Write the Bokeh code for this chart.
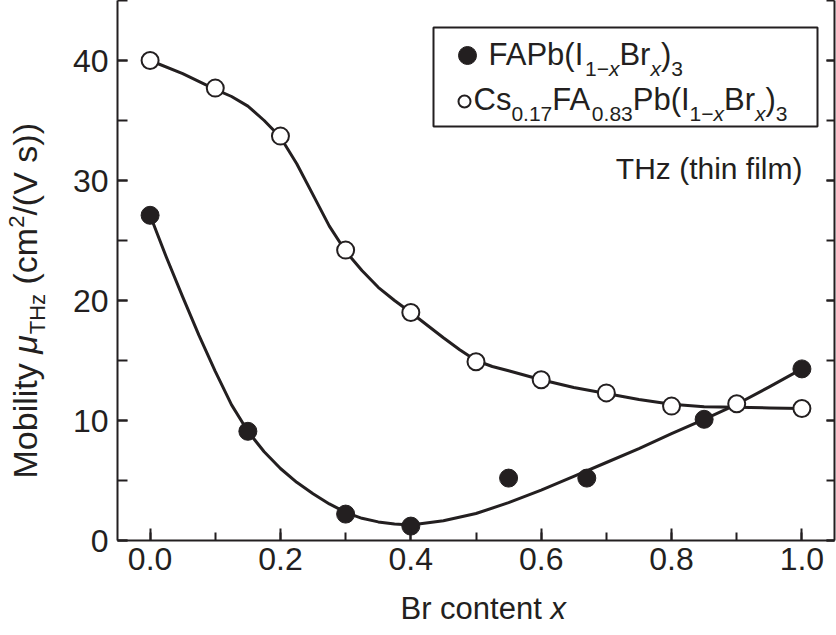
from bokeh.plotting import figure
from bokeh.layouts import column, row
from bokeh.models import (Range1d, SingleIntervalTicker, LinearAxis, Label,
                          BoxAnnotation, PrintfTickFormatter, CustomJSTickFormatter)
from bokeh.embed import file_html
from bokeh.resources import INLINE

# ---------------- data ----------------
# FAPb(I1-xBrx)3 : filled circles
x_fa = [0.00, 0.15, 0.30, 0.40, 0.55, 0.67, 0.85, 1.00]
y_fa = [27.1, 9.1, 2.2, 1.2, 5.2, 5.2, 10.1, 14.3]

# Cs0.17FA0.83Pb(I1-xBrx)3 : open circles
x_cs = [0.0, 0.1, 0.2, 0.3, 0.4, 0.5, 0.6, 0.7, 0.8, 0.9, 1.0]
y_cs = [40.0, 37.7, 33.7, 24.2, 19.0, 14.9, 13.4, 12.3, 11.2, 11.4, 11.0]

# guide curves drawn in the reference
curve_fa_x = [0.0, 0.025, 0.05, 0.075, 0.10, 0.125, 0.15, 0.175, 0.20, 0.225,
              0.25, 0.275, 0.30, 0.325, 0.35, 0.375, 0.40, 0.45, 0.50, 0.55,
              0.60, 0.65, 0.70, 0.75, 0.80, 0.85, 0.90, 0.95, 1.00]
curve_fa_y = [27.1, 23.6, 20.3, 17.1, 14.1, 11.3, 9.1, 7.4, 6.0, 4.85,
              3.9, 3.05, 2.35, 1.85, 1.55, 1.37, 1.3, 1.65, 2.25, 3.15,
              4.2, 5.35, 6.5, 7.65, 8.9, 10.1, 11.35, 12.8, 14.3]

curve_cs_x = [0.0, 0.05, 0.10, 0.125, 0.15, 0.175, 0.20, 0.225, 0.25, 0.275,
              0.30, 0.325, 0.35, 0.375, 0.40, 0.45, 0.475, 0.50, 0.525, 0.55,
              0.60, 0.65, 0.70, 0.75, 0.80, 0.85, 0.90, 0.95, 1.00]
curve_cs_y = [40.0, 38.9, 37.6, 37.0, 36.2, 35.0, 33.6, 31.4, 28.8, 26.2,
              24.1, 22.5, 21.1, 20.0, 19.0, 16.9, 15.9, 15.0, 14.5, 14.15,
              13.4, 12.75, 12.25, 11.75, 11.35, 11.15, 11.1, 11.05, 11.0]

x_ticks_interval = 0.2
y_ticks_interval = 10

# ---------------- layout constants (pixels) ----------------
W, H = 836, 635
LW = 60          # width of the strip that carries the y title
BH = 50          # height of the strip that carries the x title
FL, FR, FT, FB = 117, 834, 0, 540     # frame edges in page pixels
X0, X1, Y0, Y1 = -0.05, 1.05, 0.0, 45.0

INK = "#231f20"
FONT = "Liberation Sans"
TICK = 32
LEG, LEG_SUB = 31, 21
XT, XT_SUB = 31, 21
YT, YT_SUB = 34, 22
NOTE = 30
BASE_FIX = 0.42   # the svg text sits this many em low for an alphabetic baseline


def px2x(px):
    return X0 + (px - FL) / (FR - FL) * (X1 - X0)


def px2y(py):
    return Y1 - (py - FT) / (FB - FT) * (Y1 - Y0)


WID = {' ': 278, '(': 333, ')': 333, '.': 278, '/': 278, '\u2212': 584,
       'A': 667, 'B': 667, 'C': 722, 'F': 611, 'H': 722, 'I': 278, 'M': 833,
       'P': 667, 'T': 611, 'V': 667, 'b': 556, 'c': 500, 'e': 556, 'f': 278,
       'h': 556, 'i': 222, 'l': 222, 'm': 833, 'n': 556, 'o': 556, 'r': 333,
       's': 500, 't': 278, 'x': 500, 'y': 500, 'z': 500, '\u03bc': 576}


def text_width(s, size):
    return sum(WID.get(c, 556) for c in s) * size / 1000.0


def rich(fig, segs, x, y, size, sub, angle=0.0, sub_shift=0.33):
    """Draw a run of text pieces (normal / italic / sub / sup) from one anchor."""
    adv = 0.0
    for text, kind in segs:
        if kind in ("sub", "subi"):
            fs, shift = sub, -sub_shift * size
        elif kind == "sup":
            fs, shift = sub, 0.40 * size
        else:
            fs, shift = size, 0.0
        lead = len(text) - len(text.lstrip(" "))
        adv += text_width(" " * lead, fs)
        text = text.lstrip(" ")
        style = "italic" if kind in ("i", "subi") else "normal"
        up = shift + BASE_FIX * fs
        if angle == 0:
            xo, yo = adv, up
        else:
            xo, yo = -up, adv
        fig.add_layout(Label(x=x, y=y, x_offset=xo, y_offset=yo,
                             text=text, angle=angle, text_font=FONT,
                             text_font_size=f"{fs}px", text_font_style=style,
                             text_baseline="alphabetic", text_align="left",
                             text_color=INK))
        adv += text_width(text, fs)


def blank(width, height, x_range, y_range):
    f = figure(width=width, height=height, x_range=x_range, y_range=y_range,
               output_backend="svg", toolbar_location=None, min_border=0,
               x_axis_location=None, y_axis_location=None)
    f.grid.visible = False
    f.outline_line_color = None
    f.background_fill_color = "white"
    f.border_fill_color = "white"
    return f


# ---------------- main plot ----------------
p = figure(width=W - LW, height=H - BH, x_range=Range1d(X0, X1),
           y_range=Range1d(Y0, Y1), output_backend="svg", toolbar_location=None,
           min_border_left=FL - LW, min_border_right=W - FR,
           min_border_top=FT, min_border_bottom=H - BH - FB)
p.grid.visible = False
p.outline_line_color = None
p.background_fill_color = "white"
p.border_fill_color = "white"

xt = SingleIntervalTicker(interval=x_ticks_interval, num_minor_ticks=2)
yt = SingleIntervalTicker(interval=y_ticks_interval, num_minor_ticks=2)
p.xaxis[0].ticker = xt
p.yaxis[0].ticker = yt
p.xaxis[0].formatter = PrintfTickFormatter(format="%.1f")

for ax in (p.xaxis[0], p.yaxis[0]):
    ax.axis_line_width = 2
    ax.axis_line_color = INK
    ax.major_tick_line_width = 2
    ax.minor_tick_line_width = 2
    ax.major_tick_line_color = INK
    ax.minor_tick_line_color = INK
    ax.major_tick_out = 0
    ax.minor_tick_out = 0
    ax.major_label_text_font = FONT
    ax.major_label_text_font_size = f"{TICK}px"
    ax.major_label_text_color = INK
p.xaxis[0].major_tick_in = 12
p.xaxis[0].minor_tick_in = 8
p.yaxis[0].major_tick_in = 10
p.yaxis[0].minor_tick_in = 10
p.xaxis[0].major_label_standoff = 7
p.yaxis[0].major_label_standoff = 9

right = LinearAxis(ticker=yt, axis_line_width=2, axis_line_color=INK,
                   major_tick_line_width=2, minor_tick_line_width=2,
                   major_tick_line_color=INK, minor_tick_line_color=INK,
                   major_tick_in=8, minor_tick_in=8, major_tick_out=0,
                   minor_tick_out=0,
                   formatter=CustomJSTickFormatter(code="return ''"),
                   major_label_standoff=0)
p.add_layout(right, "right")

# curves
p.line(curve_cs_x, curve_cs_y, line_width=3, color=INK, line_join="round")
p.line(curve_fa_x, curve_fa_y, line_width=3, color=INK, line_join="round")

# markers
p.scatter(x_cs, y_cs, marker="circle", size=17, fill_color="white",
          line_color=INK, line_width=2)
p.scatter(x_fa, y_fa, marker="circle", size=18, fill_color=INK,
          line_color=INK, line_width=1)

# legend box
p.add_layout(BoxAnnotation(left=px2x(433), right=px2x(817), top=px2y(27),
                           bottom=px2y(126), fill_alpha=0, line_color=INK,
                           line_alpha=1.0, line_width=2))
p.scatter([px2x(467)], [px2y(55)], marker="circle", size=18, fill_color=INK,
          line_color=INK)
p.scatter([px2x(464)], [px2y(101)], marker="circle", size=12, fill_color="white",
          line_color=INK, line_width=2)

rich(p, [("FAPb(I", "n"), ("1\u2212", "sub"), ("x", "subi"), ("Br", "n"),
         ("x", "subi"), (")", "n"), ("3", "sub")], px2x(488), px2y(67),
     LEG, LEG_SUB)
rich(p, [("Cs", "n"), ("0.17", "sub"), ("FA", "n"), ("0.83", "sub"),
         ("Pb(I", "n"), ("1\u2212", "sub"), ("x", "subi"), ("Br", "n"),
         ("x", "subi"), (")", "n"), ("3", "sub")], px2x(473), px2y(112),
     LEG, LEG_SUB)

# annotation
p.add_layout(Label(x=px2x(802), y=px2y(181), y_offset=BASE_FIX * NOTE,
                   text="THz (thin film)", text_font=FONT,
                   text_font_size=f"{NOTE}px", text_align="right",
                   text_baseline="alphabetic", text_color=INK))

# ---------------- axis titles in their own strips ----------------
# the left strip's frame is aligned with the main frame, so it shares the y scale
left = blank(LW, H - BH, Range1d(0, LW), Range1d(Y0, Y1))
rich(left, [("Mobility ", "n"), ("\u03bc", "i"), ("THz", "sub"), (" (cm", "n"),
            ("2", "sup"), ("/(V s))", "n")], 39, px2y(478),
     YT, YT_SUB, angle=1.5707963, sub_shift=0.22)

bottom = blank(W, BH, Range1d(0, W), Range1d(0, BH))
rich(bottom, [("Br content ", "n"), ("x", "i")], 400, H - 621, XT, XT_SUB)

layout = column(row(left, p, spacing=0), bottom, spacing=0)
open("out.html", "w").write(file_html(layout, INLINE))
